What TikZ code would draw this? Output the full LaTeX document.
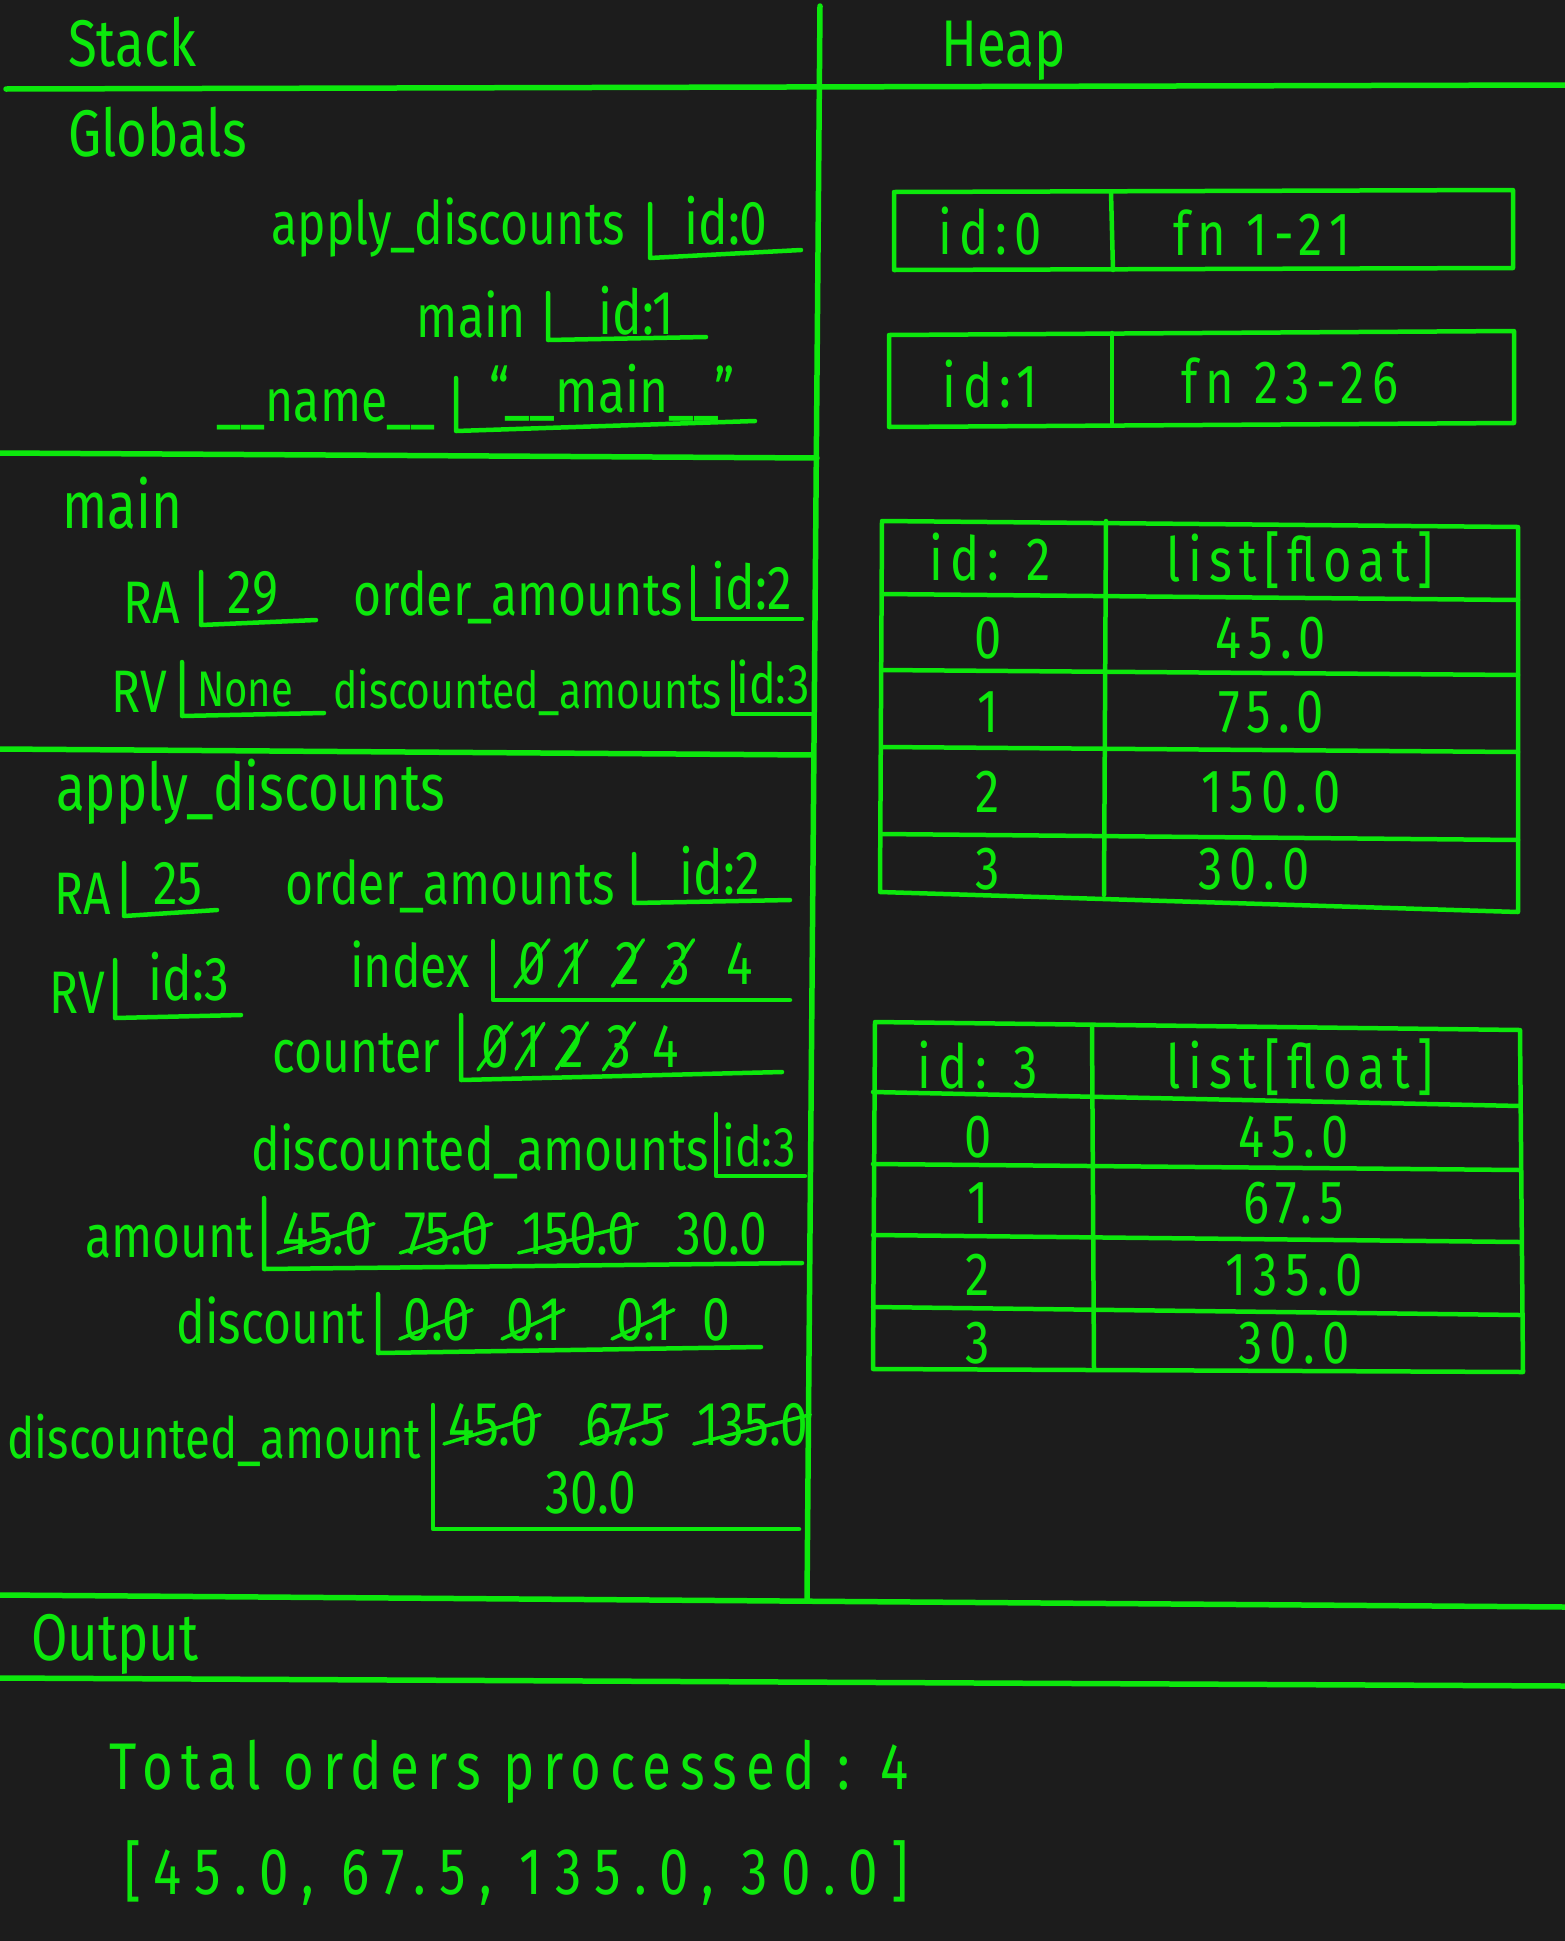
\documentclass[tikz,border=0pt]{standalone}
\usepackage{fontspec}
\setmainfont{Fira Sans}[FakeStretch=0.8]
\definecolor{ink}{RGB}{12,232,12}
\definecolor{bg}{RGB}{28,28,28}
\newcommand\fL{\fontsize{60}{62}\selectfont}
\newcommand\fV{\fontsize{62}{64}\selectfont}
\newcommand\fT{\fontsize{66}{68}\selectfont}
\newcommand\fH{\fontsize{61}{63}\selectfont\addfontfeature{LetterSpace=12}}
\newcommand\fOa{\fontsize{66}{68}\selectfont\addfontfeature{LetterSpace=13}}
\newcommand\fOb{\fontsize{66}{68}\selectfont\addfontfeature{LetterSpace=20}}
\begin{document}
\begin{tikzpicture}[x=1pt,y=-1pt,
  divline/.style={draw=ink, line width=5.5, line cap=round},
  bx/.style={draw=ink, line width=4.5, line cap=round, line join=round},
  stk/.style={draw=ink, line width=3.5, line cap=round},
  lbl/.style={text=ink, font=\fL, inner sep=0pt, anchor=base east},
  val/.style={text=ink, font=\fV, inner sep=0pt, anchor=base},
  ttl/.style={text=ink, font=\fT, inner sep=0pt, anchor=base west},
  cellt/.style={text=ink, font=\fH, inner sep=0pt, anchor=center},
  outt/.style={text=ink, inner sep=0pt, anchor=base west}]
\fill[bg] (0,0) rectangle (1565,1941);
\useasboundingbox (0,0) rectangle (1565,1941);
% dividers
\draw[divline] (6,89) -- (1565,85);
\draw[divline] (820,6) -- (807,1600);
\draw[divline] (0,453) -- (817,458);
\draw[divline] (0,749) -- (813,755);
\draw[divline] (0,1595) -- (1565,1607);
\draw[divline] (0,1678) -- (1565,1686);
% titles
\node[ttl] (tstack) at (68,66) {Stack};
\node[ttl] (theap) at (941,66) {Heap};
\node[ttl] (tglob) at (68,156) {Globals};
\node[ttl] (tmain) at (62,528) {main};
\node[ttl] (tapply) at (56,810) {apply\_discounts};
\node[ttl] (tout) at (31,1660) {Output};
% globals
\node[lbl] (gad) at (625,244) {apply\_discounts};
\draw[bx] (650,204) -- (650,258) -- (801,250);
\node[val] (gadv) at (726,244) {id:0};
\node[lbl] (gmain) at (526,337) {main};
\draw[bx] (548,293) -- (548,340) -- (706,337);
\node[val] (gmainv) at (636,334) {id:1};
\node[lbl] (gname) at (436,421) {\_\_name\_\_};
\draw[bx] (456,378) -- (456,431) -- (755,421);
\node[val] (gnamev) at (612,412) {“\_\_main\_\_”};
% main frame
\node[lbl] (mra) at (180,623) {RA};
\draw[bx] (201,572) -- (201,625) -- (316,620);
\node[val] (mrav) at (253,613) {29};
\node[lbl] (moa) at (683,615) {order\_amounts};
\draw[bx] (693,567) -- (693,619) -- (802,619);
\node[val] (moav) at (752,609) {id:2};
\node[lbl] (mrv) at (167,712) {RV};
\draw[bx] (182,662) -- (182,716) -- (324,713);
\node[val, font=\fontsize{50}{52}\selectfont] (mrvv) at (245,706) {None};
\node[lbl, font=\fontsize{51}{53}\selectfont] (mda) at (722,708) {discounted\_amounts};
\draw[bx] (733,662) -- (733,714) -- (811,714);
\node[val, font=\fontsize{56}{58}\selectfont] (mdav) at (773,703) {id:3};
% apply_discounts frame
\node[lbl] (ara) at (111,914) {RA};
\draw[bx] (124,863) -- (124,916) -- (217,910);
\node[val] (arav) at (178,904) {25};
\node[lbl] (aoa) at (615,904) {order\_amounts};
\draw[bx] (634,854) -- (634,903) -- (790,900);
\node[val] (aoav) at (720,894) {id:2};
\node[lbl] (arv) at (105,1013) {RV};
\draw[bx] (115,960) -- (115,1018) -- (241,1015);
\node[val] (arvv) at (189,1000) {id:3};
\node[lbl] (aidx) at (470,987) {index};
\draw[bx] (493,941) -- (493,1000) -- (790,1000);
\node[val] (i0) at (532,984) {0};
\node[val] (i1) at (573,984) {1};
\node[val] (i2) at (628,984) {2};
\node[val] (i3) at (678,984) {3};
\node[val] (i4) at (740,984) {4};
\foreach \n in {i0,i1,i2,i3}
  \draw[stk] ([xshift=-3pt,yshift=-2pt]\n.south west) -- ([xshift=3pt,yshift=2pt]\n.north east);
\node[lbl] (acnt) at (440,1072) {counter};
\draw[bx] (461,1015) -- (461,1080) -- (782,1072);
\node[val] (c0) at (495,1067) {0};
\node[val] (c1) at (530,1067) {1};
\node[val] (c2) at (572,1067) {2};
\node[val] (c3) at (619,1067) {3};
\node[val] (c4) at (666,1067) {4};
\foreach \n in {c0,c1,c2,c3}
  \draw[stk] ([xshift=-3pt,yshift=-2pt]\n.south west) -- ([xshift=3pt,yshift=2pt]\n.north east);
\node[lbl] (ada) at (709,1170) {discounted\_amounts};
\draw[bx] (716,1114) -- (716,1176) -- (805,1176);
\node[val, font=\fontsize{56}{58}\selectfont] (adav) at (759,1166) {id:3};
\node[lbl] (aam) at (254,1257) {amount};
\draw[bx] (264,1198) -- (264,1269) -- (802,1263);
\node[val] (am0) at (327,1254) {45.0};
\node[val] (am1) at (447,1254) {75.0};
\node[val] (am2) at (579,1254) {150.0};
\node[val] (am3) at (722,1254) {30.0};
\foreach \n in {am0,am1,am2}
  \draw[stk] ([xshift=-4pt,yshift=2pt]\n.south west) -- ([xshift=2pt,yshift=-12pt]\n.north east);
\node[lbl] (adis) at (365,1343) {discount};
\draw[bx] (378,1294) -- (378,1353) -- (761,1347);
\node[val] (d0) at (437,1340) {0.0};
\node[val] (d1) at (534,1340) {0.1};
\node[val] (d2) at (644,1340) {0.1};
\node[val] (d3) at (716,1340) {0};
\foreach \n in {d0,d1,d2}
  \draw[stk] ([xshift=-4pt,yshift=2pt]\n.south west) -- ([xshift=2pt,yshift=-12pt]\n.north east);
\node[lbl, font=\fontsize{57}{59}\selectfont] (adam) at (421,1458) {discounted\_amount};
\draw[bx] (433,1405) -- (433,1529) -- (799,1529);
\node[val] (x0) at (493,1445) {45.0};
\node[val] (x1) at (625,1445) {67.5};
\node[val] (x2) at (753,1445) {135.0};
\node[val] (x3) at (591,1513) {30.0};
\foreach \n in {x0,x1,x2}
  \draw[stk] ([xshift=-4pt,yshift=2pt]\n.south west) -- ([xshift=2pt,yshift=-12pt]\n.north east);
% heap: id 0
\draw[bx] (894,192) -- (1513,190) -- (1513,268) -- (894,270) -- cycle;
\draw[bx] (1111,192) -- (1113,270);
\node[cellt] (h0a) at (990,231) {id:0};
\node[cellt] (h0b) at (1262,233) {fn 1-21};
% heap: id 1
\draw[bx] (889,335) -- (1514,331) -- (1514,423) -- (889,427) -- cycle;
\draw[bx] (1112,333) -- (1112,425);
\node[cellt] (h1a) at (990,384) {id:1};
\node[cellt] (h1b) at (1290,381) {fn 23-26};
% heap: id 2 table
\draw[bx] (882,521) -- (1518,527) -- (1518,912) -- (880,892) -- cycle;
\draw[bx] (882,594) -- (1518,600);
\draw[bx] (882,670) -- (1518,675);
\draw[bx] (882,747) -- (1518,752);
\draw[bx] (881,834) -- (1518,840);
\draw[bx] (1106,521) -- (1104,895);
\node[cellt] (t2h0) at (990,557) {id: 2};
\node[cellt] (t2h1) at (1300,560) {list[float]};
\node[cellt] (t2i0) at (988,638) {0};
\node[cellt] (t2v0) at (1271,638) {45.0};
\node[cellt] (t2i1) at (988,712) {1};
\node[cellt] (t2v1) at (1271,712) {75.0};
\node[cellt] (t2i2) at (988,792) {2};
\node[cellt] (t2v2) at (1271,792) {150.0};
\node[cellt] (t2i3) at (988,869) {3};
\node[cellt] (t2v3) at (1254,869) {30.0};
% heap: id 3 table
\draw[bx] (875,1022) -- (1520,1030) -- (1523,1372) -- (873,1369) -- cycle;
\draw[bx] (873,1092) -- (1520,1106);
\draw[bx] (873,1164) -- (1520,1170);
\draw[bx] (873,1235) -- (1520,1242);
\draw[bx] (873,1307) -- (1520,1315);
\draw[bx] (1092,1025) -- (1094,1369);
\node[cellt] (t3h0) at (978,1065) {id: 3};
\node[cellt] (t3h1) at (1300,1067) {list[float]};
\node[cellt] (t3i0) at (978,1137) {0};
\node[cellt] (t3v0) at (1294,1137) {45.0};
\node[cellt] (t3i1) at (978,1203) {1};
\node[cellt] (t3v1) at (1294,1203) {67.5};
\node[cellt] (t3i2) at (978,1275) {2};
\node[cellt] (t3v2) at (1294,1275) {135.0};
\node[cellt] (t3i3) at (978,1343) {3};
\node[cellt] (t3v3) at (1294,1343) {30.0};
% output
\node[outt, font=\fOa] (o1) at (109,1789) {Total orders processed : 4};
\node[outt, font=\fOb] (o2) at (124,1894) {[45.0, 67.5, 135.0, 30.0]};
\end{tikzpicture}
\end{document}
